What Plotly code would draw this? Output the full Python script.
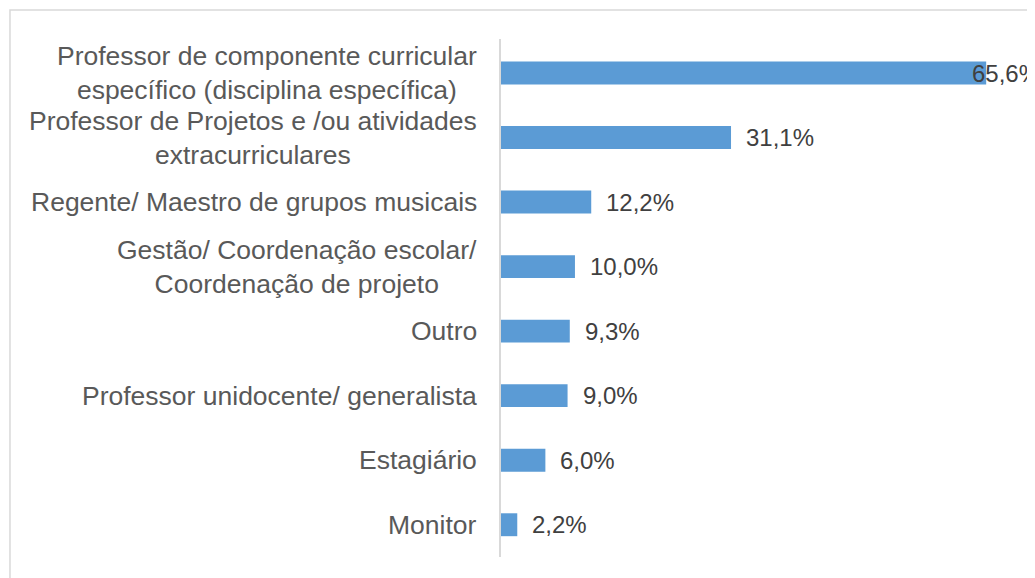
import plotly.graph_objects as go

categorias = [
    "Professor de componente curricular<br>específico (disciplina específica)",
    "Professor de Projetos e /ou atividades<br>extracurriculares",
    "Regente/ Maestro de grupos musicais",
    "Gestão/ Coordenação escolar/<br>Coordenação de projeto",
    "Outro",
    "Professor unidocente/ generalista",
    "Estagiário",
    "Monitor",
]
valores = [65.6, 31.1, 12.2, 10.0, 9.3, 9.0, 6.0, 2.2]
rotulos = ["65,6%", "31,1%", "12,2%", "10,0%", "9,3%", "9,0%", "6,0%", "2,2%"]

FONTE = "Arial, Liberation Sans, sans-serif"
AZUL = "#5B9BD5"

fig = go.Figure()

fig.add_trace(go.Bar(
    x=valores,
    y=categorias,
    orientation="h",
    marker=dict(color=AZUL, line=dict(width=0)),
    width=0.355,
    hoverinfo="skip",
))

anotacoes = []
# nomes das categorias (centralizados, como no original)
for cat in categorias:
    anotacoes.append(dict(
        x=0, y=cat, xref="x", yref="y",
        text=cat, showarrow=False,
        xanchor="right", yanchor="middle", align="center",
        xshift=-22,
        font=dict(family=FONTE, size=26.5, color="#595959"),
    ))

# rótulos de valor
for i, (v, cat, txt) in enumerate(zip(valores, categorias, rotulos)):
    anotacoes.append(dict(
        x=v, y=cat, xref="x", yref="y",
        text=txt, showarrow=False,
        xanchor="left", yanchor="middle",
        xshift=-16 if i == 0 else 13,
        font=dict(family=FONTE, size=24, color="#404040"),
    ))

# a página tem 8px de margem no body: figura um pouco menor e deslocada
fig.update_layout(
    width=1027,
    height=570,
    margin=dict(l=493, r=0, t=31, b=21),
    paper_bgcolor="white",
    plot_bgcolor="white",
    showlegend=False,
    xaxis=dict(
        range=[0, 72.2],
        showgrid=False,
        zeroline=False,
        showticklabels=False,
        showline=False,
    ),
    yaxis=dict(
        autorange="reversed",
        showticklabels=False,
        showgrid=False,
        zeroline=False,
        showline=True,
        linecolor="#D9D9D9",
        linewidth=1.5,
    ),
    annotations=anotacoes,
    shapes=[dict(
        type="rect", xref="paper", yref="paper",
        x0=-0.9195, x1=1.05, y0=-0.1, y1=1.056,
        line=dict(color="#D9D9D9", width=1.5),
        fillcolor="rgba(0,0,0,0)",
        layer="below",
    )],
)

fig.write_html("out.html")
